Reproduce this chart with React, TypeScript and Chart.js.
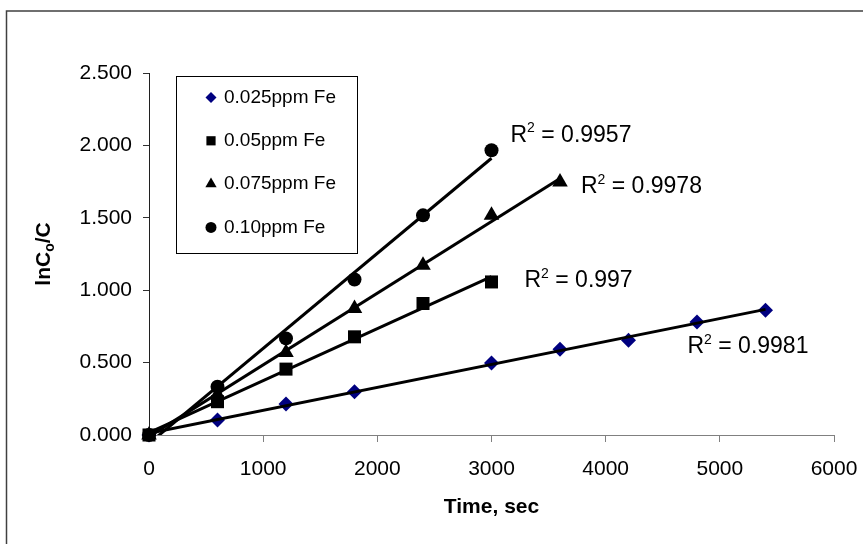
import React, { useEffect, useRef } from 'react';
import { Chart, registerables } from 'chart.js';

Chart.register(...registerables);

// ---- data ----
const seriesNames = ['0.025ppm Fe', '0.05ppm Fe', '0.075ppm Fe', '0.10ppm Fe'];
const time025 = [0, 600, 1200, 1800, 3000, 3600, 4200, 4800, 5400];
const val025 = [0, 0.103, 0.214, 0.299, 0.497, 0.593, 0.655, 0.78, 0.862];
const time05 = [0, 600, 1200, 1800, 2400, 3000];
const val05 = [0, 0.23, 0.455, 0.678, 0.908, 1.057];
const time075 = [0, 600, 1200, 1800, 2400, 3000, 3600];
const val075 = [0, 0.28, 0.57, 0.874, 1.172, 1.517, 1.747];
const time10 = [0, 600, 1200, 1800, 2400, 3000];
const val10 = [0, 0.333, 0.667, 1.074, 1.517, 1.966];
const rSquaredValues = ['0.9981', '0.997', '0.9978', '0.9957'];
const xAxisTitle = 'Time, sec';
const yTitleMain = 'lnC';
const yTitleSub = 'o';
const yTitleTail = '/C';

// ---- styles ----
const FONT = '"Liberation Sans", Arial, Helvetica, sans-serif';
const seriesColors = ['#000080', '#000000', '#000000', '#000000'];
const seriesShapes = ['rectRot', 'rect', 'triangle', 'circle'];
const seriesRadius = [7.5, 9.2, 9, 7];
const legendRadius = [5.5, 6.5, 6.5, 5.5];
const labelOffsets = [[-78, 35], [33, -3], [21, 3], [19, -17]];

const allX = [time025, time05, time075, time10];
const allY = [val025, val05, val075, val10];

function toPoints(xs: number[], ys: number[]) {
  return xs.map((x, i) => ({ x, y: ys[i] }));
}

function fitLine(xs: number[], ys: number[]) {
  const n = xs.length;
  const mx = xs.reduce((a, b) => a + b, 0) / n;
  const my = ys.reduce((a, b) => a + b, 0) / n;
  let sxy = 0;
  let sxx = 0;
  for (let i = 0; i < n; i++) {
    sxy += (xs[i] - mx) * (ys[i] - my);
    sxx += (xs[i] - mx) * (xs[i] - mx);
  }
  const slope = sxy / sxx;
  const icpt = my - slope * mx;
  const x0 = xs[0];
  const x1 = xs[n - 1];
  return [
    { x: x0, y: icpt + slope * x0 },
    { x: x1, y: icpt + slope * x1 },
  ];
}

function drawShape(ctx: CanvasRenderingContext2D, shape: string, x: number, y: number, r: number) {
  ctx.beginPath();
  if (shape === 'rectRot') {
    ctx.moveTo(x - r, y);
    ctx.lineTo(x, y - r);
    ctx.lineTo(x + r, y);
    ctx.lineTo(x, y + r);
    ctx.closePath();
  } else if (shape === 'rect') {
    const s = Math.SQRT1_2 * r;
    ctx.rect(x - s, y - s, 2 * s, 2 * s);
  } else if (shape === 'triangle') {
    const w = r * Math.sin((2 * Math.PI) / 3);
    ctx.moveTo(x, y - r);
    ctx.lineTo(x + w, y + r / 2);
    ctx.lineTo(x - w, y + r / 2);
    ctx.closePath();
  } else {
    ctx.arc(x, y, r, 0, Math.PI * 2);
  }
  ctx.fill();
}

function drawR2(ctx: CanvasRenderingContext2D, x: number, yMid: number, value: string) {
  const big = `23px ${FONT}`;
  const small = `14px ${FONT}`;
  const base = yMid + 8.2;
  ctx.textAlign = 'left';
  ctx.textBaseline = 'alphabetic';
  ctx.font = big;
  ctx.fillText('R', x, base);
  let cx = x + ctx.measureText('R').width;
  ctx.font = small;
  ctx.fillText('2', cx, base - 9.5);
  cx += ctx.measureText('2').width;
  ctx.font = big;
  ctx.fillText(' = ' + value, cx, base);
}

const decorPlugin = {
  id: 'decor',
  beforeDraw(chart: any) {
    const ctx = chart.ctx as CanvasRenderingContext2D;
    ctx.save();
    ctx.fillStyle = '#ffffff';
    ctx.fillRect(0, 0, chart.width, chart.height);
    ctx.strokeStyle = '#404040';
    ctx.lineWidth = 1.5;
    ctx.strokeRect(6.5, 11, chart.width + 20, chart.height + 20);
    ctx.restore();
  },
  afterDraw(chart: any) {
    const ctx = chart.ctx as CanvasRenderingContext2D;
    const area = chart.chartArea;
    const xs = chart.scales.x;
    const ys = chart.scales.y;
    ctx.save();

    // x title
    ctx.fillStyle = '#000';
    ctx.font = `bold 21px ${FONT}`;
    ctx.textAlign = 'center';
    ctx.textBaseline = 'middle';
    ctx.fillText(xAxisTitle, (area.left + area.right) / 2, 507);

    // y title (rotated, with subscript)
    const mainFont = `bold 21px ${FONT}`;
    const subFont = `bold 14px ${FONT}`;
    ctx.font = mainFont;
    const w1 = ctx.measureText(yTitleMain).width;
    const w3 = ctx.measureText(yTitleTail).width;
    ctx.font = subFont;
    const w2 = ctx.measureText(yTitleSub).width;
    const total = w1 + w2 + w3;
    ctx.translate(44, (area.top + area.bottom) / 2);
    ctx.rotate(-Math.PI / 2);
    ctx.textAlign = 'left';
    ctx.textBaseline = 'middle';
    let cx = -total / 2;
    ctx.font = mainFont;
    ctx.fillText(yTitleMain, cx, 0);
    cx += w1;
    ctx.font = subFont;
    ctx.fillText(yTitleSub, cx, 6);
    cx += w2;
    ctx.font = mainFont;
    ctx.fillText(yTitleTail, cx, 0);
    ctx.setTransform(1, 0, 0, 1, 0, 0);

    // R^2 labels next to the last point of each series
    ctx.fillStyle = '#000';
    for (let i = 0; i < allX.length; i++) {
      const n = allX[i].length;
      const px = xs.getPixelForValue(allX[i][n - 1]);
      const py = ys.getPixelForValue(allY[i][n - 1]);
      drawR2(ctx, px + labelOffsets[i][0], py + labelOffsets[i][1], rSquaredValues[i]);
    }

    // legend box
    const bx = area.left + 27;
    const by = area.top + 3;
    const bw = 181;
    const bh = 177;
    ctx.fillStyle = '#fff';
    ctx.fillRect(bx, by, bw, bh);
    ctx.strokeStyle = '#000';
    ctx.lineWidth = 1;
    ctx.strokeRect(bx + 0.5, by + 0.5, bw, bh);
    ctx.font = `19px ${FONT}`;
    ctx.textAlign = 'left';
    ctx.textBaseline = 'middle';
    for (let i = 0; i < seriesNames.length; i++) {
      const iy = by + 21.5 + i * 43.3;
      ctx.fillStyle = seriesColors[i];
      drawShape(ctx, seriesShapes[i], bx + 35, iy, legendRadius[i]);
      ctx.fillStyle = '#000';
      ctx.fillText(seriesNames[i], bx + 48, iy);
    }
    ctx.restore();
  },
};

export default function App() {
  const canvasRef = useRef<HTMLCanvasElement | null>(null);

  useEffect(() => {
    const canvas = canvasRef.current;
    if (!canvas) return;

    const pointSets = allX.map((xs, i) => ({
      type: 'scatter' as const,
      label: seriesNames[i],
      data: toPoints(xs, allY[i]),
      showLine: false,
      pointStyle: seriesShapes[i],
      pointRadius: seriesRadius[i],
      pointHoverRadius: seriesRadius[i],
      pointBackgroundColor: seriesColors[i],
      pointBorderColor: seriesColors[i],
      pointBorderWidth: 0,
      backgroundColor: seriesColors[i],
      borderColor: seriesColors[i],
      clip: false as any,
      order: 10 - i,
    }));

    const trendSets = allX.map((xs, i) => ({
      type: 'scatter' as const,
      label: 'trend ' + seriesNames[i],
      data: fitLine(xs, allY[i]),
      showLine: true,
      borderColor: '#000000',
      borderWidth: 3,
      pointRadius: 0,
      pointHoverRadius: 0,
      fill: false,
      order: 0,
    }));

    const tickFont = { family: FONT, size: 21 };

    const chart = new Chart(canvas, {
      type: 'scatter',
      data: { datasets: [...trendSets, ...pointSets] as any },
      options: {
        responsive: false,
        animation: false,
        devicePixelRatio: 1,
        layout: { padding: { top: 73, right: 29, left: 0, bottom: 0 } },
        plugins: {
          legend: { display: false },
          tooltip: { enabled: false },
          title: { display: false },
        },
        scales: {
          x: {
            type: 'linear',
            min: 0,
            max: 6000,
            ticks: {
              stepSize: 1000,
              color: '#000',
              font: tickFont,
              padding: 15,
              maxRotation: 0,
              callback: (v: any) => String(v),
            },
            grid: {
              drawOnChartArea: false,
              drawTicks: true,
              tickLength: 7,
              color: '#808080',
              lineWidth: 1,
            },
            border: { display: true, color: '#808080', width: 1 },
            afterFit: (scale: any) => {
              scale.height = 109;
              scale.paddingLeft = 0;
              scale.paddingRight = 0;
            },
          },
          y: {
            type: 'linear',
            min: 0,
            max: 2.5,
            ticks: {
              stepSize: 0.5,
              color: '#000',
              font: tickFont,
              padding: 11,
              callback: (v: any) => Number(v).toFixed(3),
            },
            grid: {
              drawOnChartArea: false,
              drawTicks: true,
              tickLength: 6,
              color: '#303030',
              lineWidth: 1,
            },
            border: { display: true, color: '#202020', width: 1 },
            afterFit: (scale: any) => {
              scale.width = 149;
              scale.paddingTop = 0;
              scale.paddingBottom = 0;
            },
          },
        },
      } as any,
      plugins: [decorPlugin],
    });

    return () => {
      chart.destroy();
    };
  }, []);

  return (
    <div style={{ position: 'fixed', left: 0, top: 0, width: 863, height: 544, background: '#fff' }}>
      <canvas ref={canvasRef} width={863} height={544} style={{ display: 'block', width: 863, height: 544 }} />
    </div>
  );
}
